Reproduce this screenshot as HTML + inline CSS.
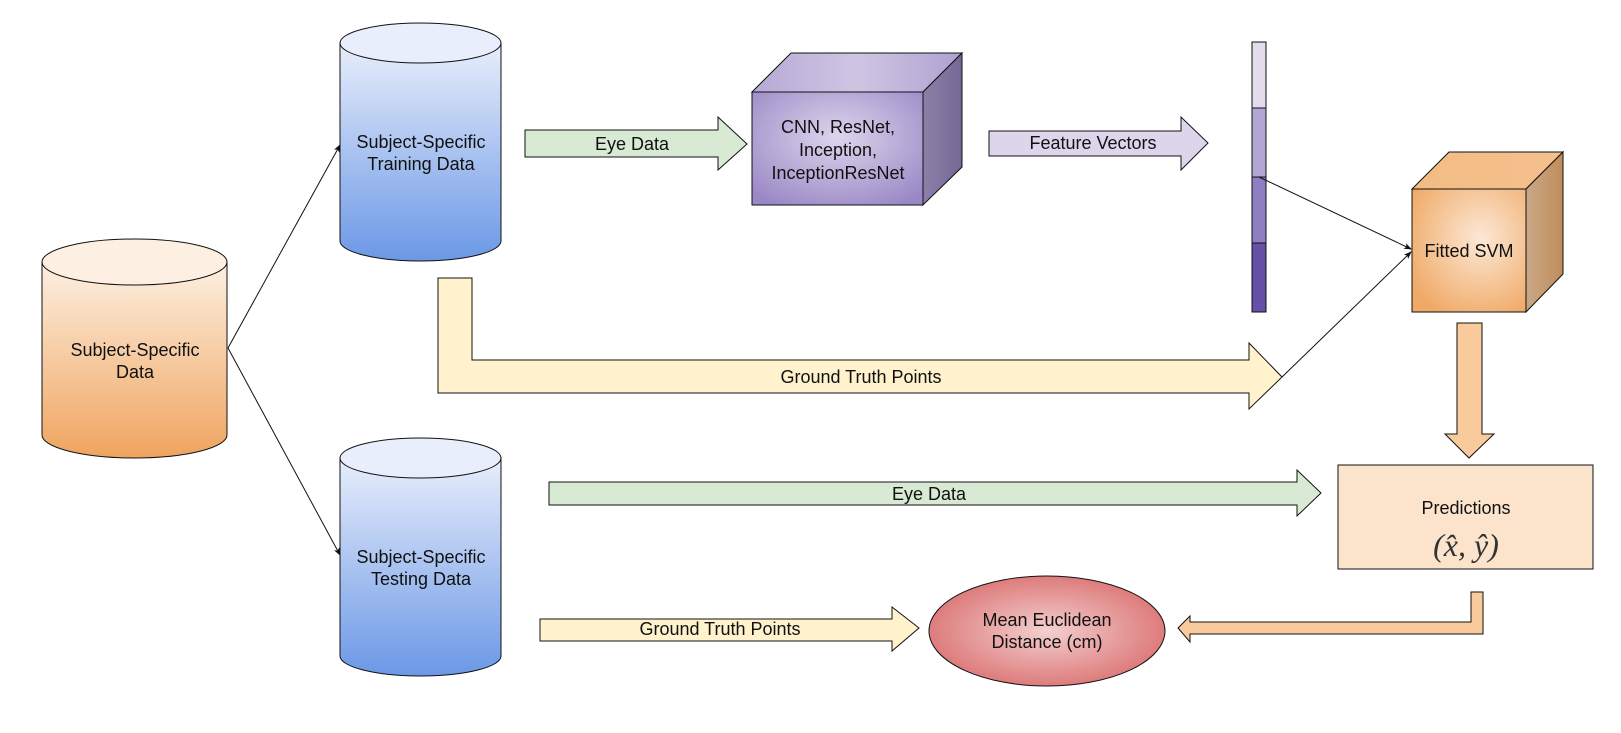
<!DOCTYPE html>
<html><head><meta charset="utf-8"><style>
html,body{margin:0;padding:0;background:#fff}
svg{display:block}
text{font-family:"Liberation Sans",sans-serif;font-size:18px;fill:#111}
</style></head><body>
<svg width="1621" height="733" viewBox="0 0 1621 733" xmlns="http://www.w3.org/2000/svg">
<defs>
<linearGradient id="gOr" x1="0" y1="0" x2="0" y2="1"><stop offset="0" stop-color="#fdf0e2"/><stop offset="1" stop-color="#efa45f"/></linearGradient>
<linearGradient id="gBl" x1="0" y1="0" x2="0" y2="1"><stop offset="0" stop-color="#e8eefb"/><stop offset="1" stop-color="#6b98e6"/></linearGradient>
<radialGradient id="gPu" cx="0.5" cy="0.4" r="0.7"><stop offset="0" stop-color="#ddd5ec"/><stop offset="1" stop-color="#9a88c6"/></radialGradient>
<linearGradient id="gPuS" x1="0" y1="0" x2="1" y2="0"><stop offset="0" stop-color="#8c80a8"/><stop offset="1" stop-color="#766895"/></linearGradient>
<linearGradient id="gPuT" x1="0" y1="0" x2="1" y2="0"><stop offset="0" stop-color="#b6a9d6"/><stop offset="0.5" stop-color="#cfc5e3"/><stop offset="1" stop-color="#b0a1d2"/></linearGradient>
<radialGradient id="gSv" cx="0.6" cy="0.4" r="0.7"><stop offset="0" stop-color="#fce8d6"/><stop offset="1" stop-color="#f0aa67"/></radialGradient>
<linearGradient id="gSvS" x1="0" y1="0" x2="1" y2="0"><stop offset="0" stop-color="#c9a887"/><stop offset="1" stop-color="#c08d5a"/></linearGradient>
<linearGradient id="gSvT" x1="0" y1="0" x2="1" y2="0"><stop offset="0" stop-color="#f3bc85"/><stop offset="1" stop-color="#f4c08c"/></linearGradient>
<radialGradient id="gRe" cx="0.5" cy="0.5" r="0.6"><stop offset="0" stop-color="#f4cfcf"/><stop offset="1" stop-color="#d96b6b"/></radialGradient>
<marker id="ar" markerWidth="8" markerHeight="8" refX="7" refY="4" orient="auto" markerUnits="userSpaceOnUse"><path d="M0,1 L8,4 L0,7 L2,4 Z" fill="#111"/></marker>
</defs>

<path d="M42,262 L42,435 A92.5,23 0 0 0 227,435 L227,262 Z" fill="url(#gOr)" stroke="#111"/>
<ellipse cx="134.5" cy="262" rx="92.5" ry="23" fill="#fdf0e2" stroke="#111"/>
<text x="135" y="356" text-anchor="middle">Subject-Specific</text>
<text x="135" y="378" text-anchor="middle">Data</text>

<path d="M340,43 L340,241 A80.5,20 0 0 0 501,241 L501,43 Z" fill="url(#gBl)" stroke="#111"/>
<ellipse cx="420.5" cy="43" rx="80.5" ry="20" fill="#e8eefb" stroke="#111"/>
<text x="421" y="148" text-anchor="middle">Subject-Specific</text>
<text x="421" y="170" text-anchor="middle">Training Data</text>

<path d="M340,458 L340,656 A80.5,20 0 0 0 501,656 L501,458 Z" fill="url(#gBl)" stroke="#111"/>
<ellipse cx="420.5" cy="458" rx="80.5" ry="20" fill="#e8eefb" stroke="#111"/>
<text x="421" y="563" text-anchor="middle">Subject-Specific</text>
<text x="421" y="585" text-anchor="middle">Testing Data</text>

<line x1="228" y1="348" x2="340" y2="145" stroke="#111" marker-end="url(#ar)"/>
<line x1="228" y1="348" x2="340" y2="555" stroke="#111" marker-end="url(#ar)"/>

<polygon points="525,130 718,130 718,117 747,144 718,170 718,157 525,157" fill="#d8ead3" stroke="#111"/>
<text x="632" y="150" text-anchor="middle">Eye Data</text>

<polygon points="752,92 791,53 962,53 923,92" fill="url(#gPuT)" stroke="#111"/>
<polygon points="923,92 962,53 962,167 923,205" fill="url(#gPuS)" stroke="#111"/>
<rect x="752" y="92" width="171" height="113" fill="url(#gPu)" stroke="#111"/>
<text x="838" y="133" text-anchor="middle">CNN, ResNet,</text>
<text x="838" y="156" text-anchor="middle">Inception,</text>
<text x="838" y="179" text-anchor="middle">InceptionResNet</text>

<polygon points="989,131 1181,131 1181,117 1208,143 1181,170 1181,156 989,156" fill="#dcd5ec" stroke="#111"/>
<text x="1093" y="149" text-anchor="middle">Feature Vectors</text>

<rect x="1252" y="42" width="14" height="66" fill="#e2dced" stroke="#111"/>
<rect x="1252" y="108" width="14" height="69" fill="#b3a6d6" stroke="#111"/>
<rect x="1252" y="177" width="14" height="66" fill="#8e7fc4" stroke="#111"/>
<rect x="1252" y="243" width="14" height="69" fill="#6751a8" stroke="#111"/>

<polygon points="1412,189 1449,152 1563,152 1526,189" fill="url(#gSvT)" stroke="#111"/>
<polygon points="1526,189 1563,152 1563,274 1526,312" fill="url(#gSvS)" stroke="#111"/>
<rect x="1412" y="189" width="114" height="123" fill="url(#gSv)" stroke="#111"/>
<text x="1469" y="257" text-anchor="middle">Fitted SVM</text>

<line x1="1259" y1="177" x2="1411" y2="249" stroke="#111" marker-end="url(#ar)"/>
<line x1="1282" y1="377" x2="1411" y2="252" stroke="#111" marker-end="url(#ar)"/>

<polygon points="438,278 472,278 472,360 1249,360 1249,343 1282,377 1249,409 1249,393 438,393" fill="#fff2cc" stroke="#111"/>
<text x="861" y="383" text-anchor="middle">Ground Truth Points</text>

<polygon points="1457,323 1482,323 1482,434 1494,434 1469,458 1445,434 1457,434" fill="#f9ca9b" stroke="#111"/>

<rect x="1338" y="465" width="255" height="104" fill="#fce4cc" stroke="#111"/>
<text x="1466" y="514" text-anchor="middle">Predictions</text>
<text x="1466" y="556" text-anchor="middle" style="font-family:'Liberation Serif',serif;font-size:32px;font-style:italic;fill:#333">(x̂, ŷ)</text>

<polygon points="549,482 1297,482 1297,470 1321,493 1297,516 1297,505 549,505" fill="#d8ead3" stroke="#111"/>
<text x="929" y="500" text-anchor="middle">Eye Data</text>

<polygon points="1471,592 1483,592 1483,634 1190,634 1190,642 1178,628 1190,616 1190,622 1471,622" fill="#f9ca9b" stroke="#111"/>

<ellipse cx="1047" cy="631" rx="118" ry="55" fill="url(#gRe)" stroke="#111"/>
<text x="1047" y="626" text-anchor="middle">Mean Euclidean</text>
<text x="1047" y="648" text-anchor="middle">Distance (cm)</text>

<polygon points="540,619 892,619 892,607 919,628 892,651 892,641 540,641" fill="#fff2cc" stroke="#111"/>
<text x="720" y="635" text-anchor="middle">Ground Truth Points</text>
</svg>
</body></html>
